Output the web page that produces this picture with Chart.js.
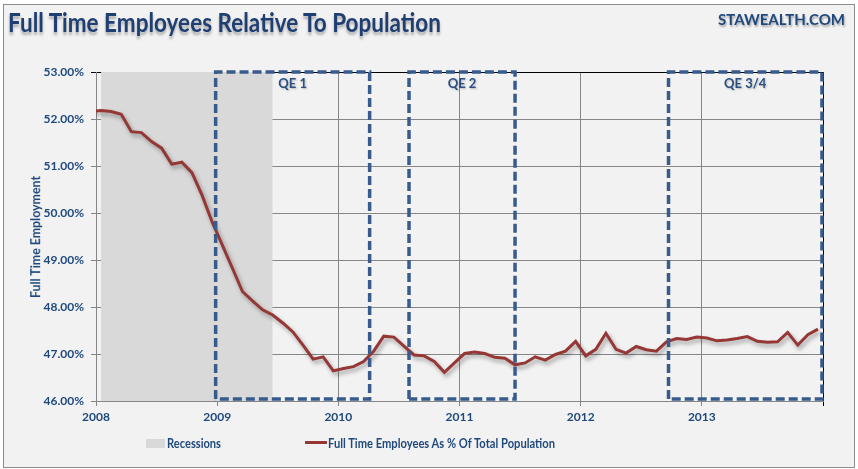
<!DOCTYPE html>
<html>
<head>
<meta charset="utf-8">
<script src="https://cdn.jsdelivr.net/npm/chart.js@4.4.1/dist/chart.umd.min.js"></script>
<style>
  html, body { margin: 0; padding: 0; background: #ffffff; }
  body { width: 858px; height: 469px; position: relative; overflow: hidden; font-family: Lato, 'Open Sans', sans-serif; }
  #frame { position: absolute; left: 3px; top: 4px; width: 850px; height: 462px; border: 1px solid #8c8c8c; background: #f2f2f2; }
  #chart { position: absolute; left: 0; top: 0; }
  .txt { position: absolute; white-space: nowrap; font-weight: bold; color: #1f497d; transform-origin: left center; }
  #title { left: 8px; top: 5px; font-size: 27px; color: #1f3f73; text-shadow: 0 3px 3px rgba(0,0,0,0.3); }
  #brand { left: 718px; top: 10px; font-size: 15px; color: #1f497d; text-shadow: 1px 2px 2px rgba(0,0,0,0.3); }
  #yTitle { left: 35px; top: 237px; font-size: 13px; transform-origin: center center; }
  .legBox { position: absolute; left: 146px; top: 439px; width: 19px; height: 9px; background: #d9d9d9; }
  .legLine { position: absolute; left: 305px; top: 441px; width: 22px; height: 3px; background: #953735; }
  .legTxt { top: 434px; font-size: 14px; }
</style>
</head>
<body>
<div id="frame"></div>
<canvas id="chart" width="858" height="469"></canvas>
<div id="title" class="txt">Full Time Employees Relative To Population</div>
<div id="brand" class="txt">STAWEALTH.COM</div>
<div id="yTitle" class="txt">Full Time Employment</div>
<div class="legBox"></div>
<div id="legRec" class="txt legTxt" style="left:167px">Recessions</div>
<div class="legLine"></div>
<div id="legEmp" class="txt legTxt" style="left:328px">Full Time Employees As % Of Total Population</div>
<script>
// --- Data (monthly, Dec 2007 .. Dec 2013) ---
const yearLabels = ['2008', '2009', '2010', '2011', '2012', '2013'];
const firstMonthOffset = -1; // first value is Dec 2007, month 0 = Jan 2008
const fullTimePct = [
    52.16,
    52.18, 52.16, 52.10, 51.73, 51.71, 51.52, 51.38, 51.04, 51.08, 50.86, 50.38, 49.81,
    49.32, 48.83, 48.33, 48.13, 47.94, 47.83, 47.66, 47.47, 47.19, 46.89, 46.94, 46.64,
    46.69, 46.73, 46.84, 47.06, 47.38, 47.36, 47.17, 46.98, 46.96, 46.84, 46.61, 46.81,
    47.01, 47.04, 47.01, 46.93, 46.91, 46.77, 46.81, 46.94, 46.87, 46.99, 47.06, 47.27,
    46.96, 47.10, 47.44, 47.10, 47.02, 47.16, 47.09, 47.06, 47.26, 47.33, 47.31, 47.36,
    47.34, 47.28, 47.30, 47.33, 47.37, 47.27, 47.25, 47.26, 47.46, 47.19, 47.41, 47.53
];
// recession: Jan 2008 .. Jun 2009 (month index)
const recessionMonths = [0, 17];
const recessionLevel = 53;
// QE programs (month index ranges, as drawn)
const qeNames = ['QE 1', 'QE 2', 'QE 3/4'];
const qeStart = [11.35, 30.5, 56.2];
const qeEnd = [26.6, 41.0, 71.4];
const qeLow = 46.04, qeHigh = 53;

const yMin = 46, yMax = 53;
const axisBlue = '#1f497d';
const gridGrey = '#868686';

// --- Build datasets ---
const employmentPoints = fullTimePct.map((v, i) => ({ x: i + firstMonthOffset, y: v }));

const datasets = [
    {
        label: 'Recessions',
        data: recessionMonths.map(m => ({ x: m, y: recessionLevel })),
        borderWidth: 0,
        backgroundColor: '#d9d9d9',
        fill: 'start',
        pointRadius: 0,
        order: 3
    },
    {
        label: 'Full Time Employees As % Of Total Population',
        data: employmentPoints,
        borderColor: '#953735',
        borderWidth: 3,
        tension: 0,
        fill: false,
        pointRadius: 0,
        order: 2
    }
];

qeNames.forEach((name, i) => {
    const s = qeStart[i], e = qeEnd[i];
    datasets.push({
        label: name,
        data: [
            { x: s, y: qeLow }, { x: s, y: qeHigh }, { x: e, y: qeHigh },
            { x: e, y: qeLow }, { x: s, y: qeLow }
        ],
        borderColor: '#365b8c',
        borderWidth: 3.5,
        borderDash: [9, 4],
        borderJoinStyle: 'miter',
        fill: false,
        pointRadius: 0,
        tension: 0,
        clip: false,
        order: 1
    });
});

// --- Plugins ---
const lineShadow = {
    id: 'lineShadow',
    beforeDatasetDraw(chart, args) {
        if (args.index !== 1) return;
        const c = chart.ctx;
        c.save();
        c.shadowColor = 'rgba(0,0,0,0.35)';
        c.shadowBlur = 4;
        c.shadowOffsetX = 2;
        c.shadowOffsetY = 3;
    },
    afterDatasetDraw(chart, args) {
        if (args.index !== 1) return;
        chart.ctx.restore();
    }
};

const qeLabels = {
    id: 'qeLabels',
    afterDatasetsDraw(chart) {
        const c = chart.ctx;
        const xs = chart.scales.x, ys = chart.scales.y;
        c.save();
        c.font = 'bold 13px Lato';
        c.fillStyle = '#2a4f80';
        c.textAlign = 'center';
        c.textBaseline = 'middle';
        c.shadowColor = 'rgba(0,0,0,0.25)';
        c.shadowBlur = 2;
        c.shadowOffsetX = 1;
        c.shadowOffsetY = 1;
        qeNames.forEach((name, i) => {
            const px = xs.getPixelForValue((qeStart[i] + qeEnd[i]) / 2);
            const py = ys.getPixelForValue(qeHigh) + 12;
            c.fillText(name, px, py);
        });
        c.restore();
    }
};

const yearTicks = yearLabels.map((y, i) => i * 12 - 0.5).concat([71.5]);

new Chart(document.getElementById('chart'), {
    type: 'line',
    data: { datasets: datasets },
    options: {
        responsive: false,
        animation: false,
        layout: { padding: { left: 0, top: 72, right: 35, bottom: 38 } },
        plugins: {
            legend: { display: false },
            title: { display: false },
            tooltip: { enabled: false }
        },
        scales: {
            x: {
                type: 'linear',
                min: -0.5,
                max: 71.5,
                afterBuildTicks: (scale) => { scale.ticks = yearTicks.map(v => ({ value: v })); },
                afterFit: (scale) => { scale.height = 30; },
                ticks: {
                    autoSkip: false,
                    maxRotation: 0,
                    padding: 4,
                    color: axisBlue,
                    font: { family: 'Lato', size: 12, weight: 'bold' },
                    callback: (v, i) => yearLabels[i] || ''
                },
                grid: {
                    color: (ctx) => (ctx.tick && ctx.tick.value === 71.5) ? '#000000' : gridGrey,
                    tickLength: 5,
                    lineWidth: 1
                },
                border: { color: gridGrey }
            },
            y: {
                min: yMin,
                max: yMax,
                afterFit: (scale) => { scale.width = 96; },
                ticks: {
                    stepSize: 1,
                    padding: 7,
                    color: axisBlue,
                    font: { family: 'Lato', size: 12, weight: 'bold' },
                    callback: (v) => v.toFixed(2) + '%'
                },
                grid: {
                    color: (ctx) => (ctx.tick && ctx.tick.value === yMax) ? '#000000' : gridGrey,
                    tickLength: 5,
                    lineWidth: 1
                },
                border: { color: gridGrey }
            }
        }
    },
    plugins: [lineShadow, qeLabels]
});

// --- Fit overlay texts to the measured widths of the reference ---
function fitWidth(id, width) {
    const el = document.getElementById(id);
    const w = el.getBoundingClientRect().width;
    el.style.transform = 'scaleX(' + (width / w) + ')';
}
fitWidth('title', 433);
fitWidth('brand', 127);
fitWidth('legRec', 54);
fitWidth('legEmp', 227);

const yt = document.getElementById('yTitle');
const r = yt.getBoundingClientRect();
const sx = 122 / r.width;
yt.style.left = (35 - r.width / 2) + 'px';
yt.style.top = (237 - r.height / 2) + 'px';
yt.style.transform = 'rotate(-90deg) scaleX(' + sx + ')';
</script>
</body>
</html>
